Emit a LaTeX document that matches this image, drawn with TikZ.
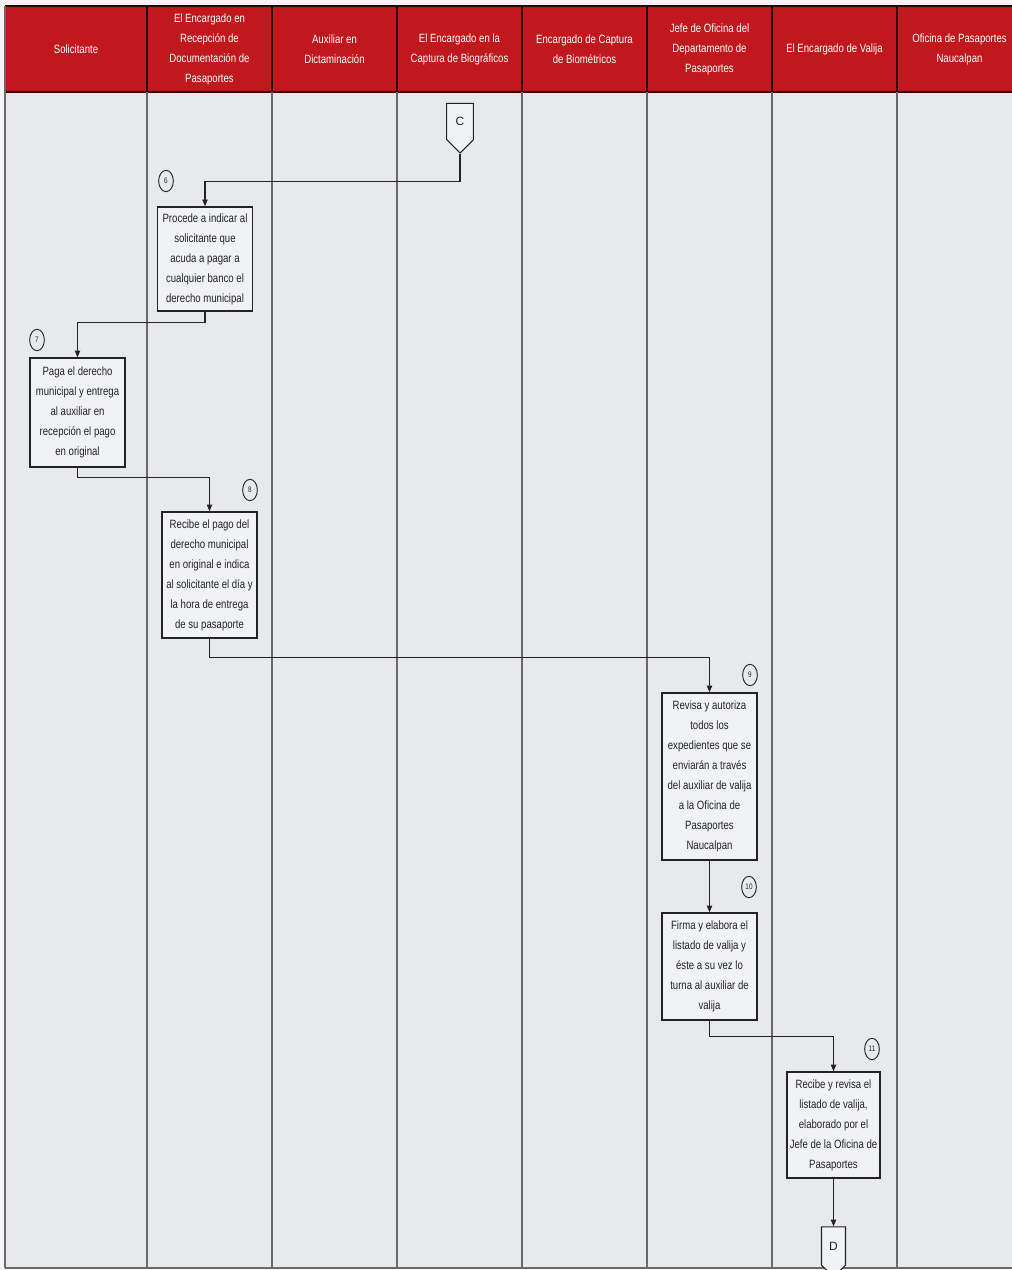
\documentclass[tikz,border=0pt]{standalone}
\usepackage{fontspec}
\setmainfont{Liberation Sans}
\newfontfamily\narf[FakeStretch=0.8]{Liberation Sans}
\usetikzlibrary{shapes.symbols,shapes.geometric,arrows.meta,calc}
\definecolor{hdrred}{RGB}{192,24,28}
\definecolor{bodygray}{RGB}{232,233,235}
\definecolor{divgray}{RGB}{105,105,108}
\definecolor{inkgray}{RGB}{35,35,37}
\begin{document}
\begin{tikzpicture}[x=0.75pt,y=-0.75pt,
  hdr/.style={text=white,font=\narf\fontsize{9}{15}\selectfont,align=center,inner sep=0pt},
  stepbox/.style={draw=inkgray,line width=1.1pt,fill=bodygray!60!white,align=center,inner sep=0pt,
    font=\narf\fontsize{9}{15}\selectfont,text=inkgray,minimum width=71.25pt},
  numb/.style={draw=inkgray,line width=0.7pt,ellipse,minimum width=11pt,minimum height=16pt,inner sep=0pt,
    font=\narf\fontsize{6}{7}\selectfont,text=inkgray},
  offpage/.style={signal,signal to=south,signal from=nowhere,draw=inkgray,line width=0.8pt,fill=bodygray!60!white,
    inner sep=0pt,font=\fontsize{9}{10}\selectfont,text=inkgray},
  arr/.style={draw=inkgray,line width=0.9pt,-{Triangle[length=5pt,width=4pt]}},
  hline/.style={draw=black!80!hdrred,line width=1pt},
  vline/.style={draw=divgray,line width=1.1pt}]
\useasboundingbox (0,0) rectangle (1012,1270);
\fill[white!96!black] (0,0) rectangle (1012,1270);
% body and header
\fill[bodygray] (5,92) rectangle (1012,1268);
\fill[hdrred] (5,6) rectangle (1012,92);
\draw[hline] (5,6) -- (1012,6);
\draw[hline,line width=1.8pt] (5,92) -- (1012,92);
% column dividers
\foreach \xx in {147,272,397,522,647,772,897} {
  \draw[hline] (\xx,6) -- (\xx,92);
  \draw[vline] (\xx,92) -- (\xx,1268);
}
\draw[vline] (5,6) -- (5,1268);
\draw[vline,line width=1.6pt] (5,1268) -- (1012,1268);
% header labels
\node[hdr] (h1) at (76,49) {Solicitante};
\node[hdr] (h2) at (209.5,49) {El Encargado en\\Recepción de\\Documentación de\\Pasaportes};
\node[hdr] (h3) at (334.5,49) {Auxiliar en\\Dictaminación};
\node[hdr] (h4) at (459.5,49) {El Encargado en la\\Captura de Biográficos};
\node[hdr] (h5) at (584.5,49) {Encargado de Captura\\de Biométricos};
\node[hdr] (h6) at (709.5,49) {Jefe de Oficina del\\Departamento de\\Pasaportes};
\node[hdr] (h7) at (834.5,49) {El Encargado de Valija};
\node[hdr] (h8) at (959.5,49) {Oficina de Pasaportes\\Naucalpan};
% off-page connectors
\node[offpage,minimum width=20pt,minimum height=30.5pt] (C) at (460,121.5) {C};
\node[offpage,minimum width=18pt,minimum height=32pt] (D) at (833.5,1246) {D};
% process boxes
\node[stepbox,minimum height=78pt] (b6) at (205,259) {Procede a indicar al\\solicitante que\\acuda a pagar a\\cualquier banco el\\derecho municipal};
\node[stepbox,minimum height=81.75pt] (b7) at (77.5,412.5) {Paga el derecho\\municipal y entrega\\al auxiliar en\\recepción el pago\\en original};
\node[stepbox,minimum height=94.5pt] (b8) at (209.5,575) {Recibe el pago del\\derecho municipal\\en original e indica\\al solicitante el día y\\la hora de entrega\\de su pasaporte};
\node[stepbox,minimum height=125.25pt] (b9) at (709.5,776.5) {Revisa y autoriza\\todos los\\expedientes que se\\enviarán a través\\del auxiliar de valija\\a la Oficina de\\Pasaportes\\Naucalpan};
\node[stepbox,minimum height=80.25pt] (b10) at (709.5,966.5) {Firma y elabora el\\listado de valija y\\éste a su vez lo\\turna al auxiliar de\\valija};
\node[stepbox,minimum width=69.75pt,minimum height=79.5pt] (b11) at (833.5,1125) {Recibe y revisa el\\listado de valija,\\elaborado por el\\Jefe de la Oficina de\\Pasaportes};
% step numbers
\node[numb] (n6) at (166,181) {6};
\node[numb] (n7) at (37,340) {7};
\node[numb] (n8) at (250,490) {8};
\node[numb] (n9) at (750,675) {9};
\node[numb] (n10) at (749,887) {10};
\node[numb] (n11) at (872,1049) {11};
% connectors
\draw[arr] (C.south) -- ++(0,28) -| (b6.north);
\draw[arr] (b6.south) -- ++(0,11) -| (b7.north);
\draw[arr] (b7.south) -- ++(0,10) -| (b8.north);
\draw[arr] (b8.south) -- ++(0,19) -| (b9.north);
\draw[arr] (b9.south) -- (b10.north);
\draw[arr] (b10.south) -- ++(0,16) -| (b11.north);
\draw[arr] (b11.south) -- (D.north);
\end{tikzpicture}
\end{document}
